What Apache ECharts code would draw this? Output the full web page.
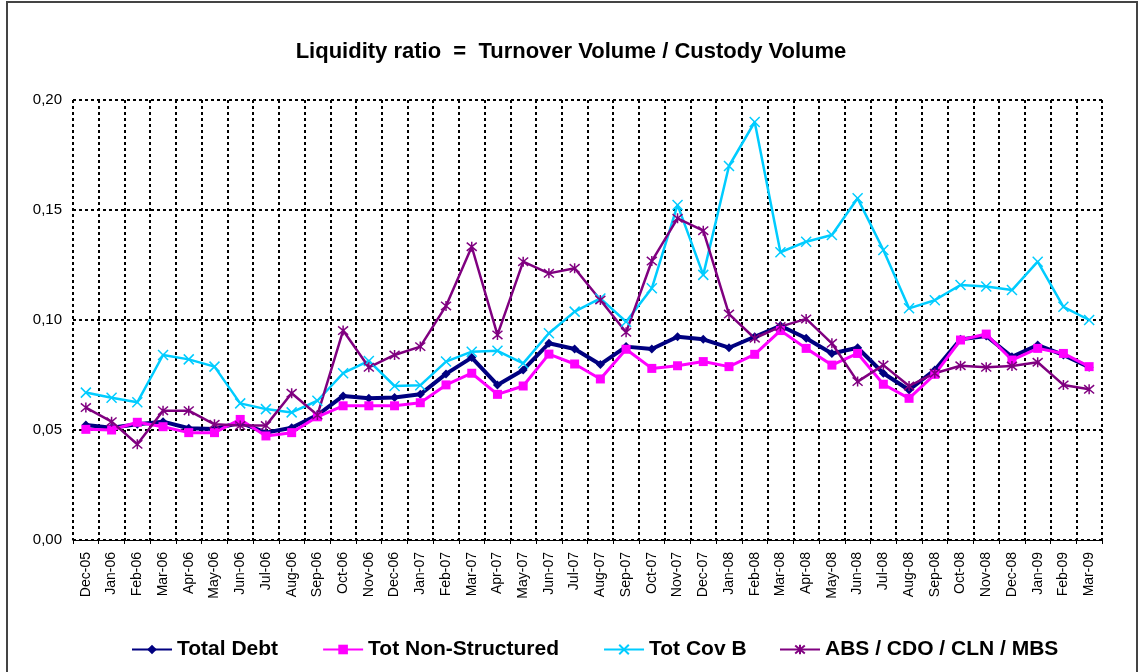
<!DOCTYPE html>
<html>
<head>
<meta charset="utf-8">
<script src="https://cdn.jsdelivr.net/npm/echarts@6/dist/echarts.min.js"></script>
<style>
  html, body { margin: 0; padding: 0; background: #fff; }
</style>
</head>
<body>
<div id="chart" style="width: 1142px;height:672px;"></div>
<script>
var months = ['Dec-05', 'Jan-06', 'Feb-06', 'Mar-06', 'Apr-06', 'May-06', 'Jun-06', 'Jul-06', 'Aug-06', 'Sep-06',
  'Oct-06', 'Nov-06', 'Dec-06', 'Jan-07', 'Feb-07', 'Mar-07', 'Apr-07', 'May-07', 'Jun-07', 'Jul-07',
  'Aug-07', 'Sep-07', 'Oct-07', 'Nov-07', 'Dec-07', 'Jan-08', 'Feb-08', 'Mar-08', 'Apr-08', 'May-08',
  'Jun-08', 'Jul-08', 'Aug-08', 'Sep-08', 'Oct-08', 'Nov-08', 'Dec-08', 'Jan-09', 'Feb-09', 'Mar-09']

var totalDebt = [0.0523, 0.0510, 0.0526, 0.0538, 0.0508, 0.0505, 0.0533, 0.0488, 0.0510, 0.0568,
  0.0655, 0.0644, 0.0648, 0.0662, 0.0755, 0.0829, 0.0705, 0.0773, 0.0894, 0.0868,
  0.0798, 0.0879, 0.0868, 0.0924, 0.0912, 0.0874, 0.0924, 0.0974, 0.0917, 0.0848,
  0.0874, 0.0758, 0.0682, 0.0773, 0.0912, 0.0927, 0.0833, 0.0886, 0.0841, 0.0785]

var totNonStructured = [0.0503, 0.0500, 0.0535, 0.0515, 0.0488, 0.0488, 0.0548, 0.0473, 0.0488, 0.0560,
  0.0610, 0.0610, 0.0610, 0.0624, 0.0705, 0.0758, 0.0662, 0.0700, 0.0845, 0.0800,
  0.0732, 0.0867, 0.0780, 0.0792, 0.0811, 0.0788, 0.0844, 0.0952, 0.0871, 0.0795,
  0.0848, 0.0708, 0.0644, 0.0753, 0.0909, 0.0936, 0.0818, 0.0871, 0.0848, 0.0788]

var totCovB = [0.0670, 0.0647, 0.0626, 0.0841, 0.0821, 0.0788, 0.0621, 0.0595, 0.0580, 0.0633,
  0.0758, 0.0814, 0.0700, 0.0703, 0.0811, 0.0856, 0.0860, 0.0803, 0.0940, 0.1038,
  0.1098, 0.0992, 0.1144, 0.1523, 0.1205, 0.1700, 0.1900, 0.1308, 0.1356, 0.1386,
  0.1553, 0.1318, 0.1053, 0.1090, 0.1159, 0.1152, 0.1136, 0.1265, 0.1060, 0.1000]

var absCdo = [0.0602, 0.0538, 0.0435, 0.0588, 0.0588, 0.0526, 0.0520, 0.0520, 0.0667, 0.0568,
  0.0952, 0.0785, 0.0841, 0.0879, 0.1064, 0.1333, 0.0932, 0.1265, 0.1212, 0.1235,
  0.1091, 0.0944, 0.1268, 0.1462, 0.1406, 0.1027, 0.0917, 0.0970, 0.1005, 0.0894,
  0.0720, 0.0795, 0.0700, 0.0758, 0.0792, 0.0785, 0.0791, 0.0808, 0.0705, 0.0685]

var font = 'Liberation Sans, Arial, sans-serif'
var crossSymbol = 'path://M0,0L10,10M10,0L0,10'
var starSymbol = 'path://M0,0L10,10M10,0L0,10M5,-1L5,11'

// legend look, shared by the two legend blocks
var legendBase = {
  top: 634,
  itemGap: 44,
  itemWidth: 40,
  itemHeight: 12,
  textStyle: {fontFamily: font, fontSize: 21, fontWeight: 'bold', color: '#000'}
}

var option = {
  animation: false,
  backgroundColor: '#fff',
  graphic: [
    {
      type: 'rect',
      shape: {x: 7, y: 2, width: 1130, height: 690},
      style: {fill: 'none', stroke: '#444', lineWidth: 2},
      silent: true
    }
  ],
  title: {
    text: 'Liquidity ratio  =  Turnover Volume / Custody Volume',
    left: 'center',
    top: 36,
    textStyle: {fontFamily: font, fontSize: 22, fontWeight: 'bold', color: '#000'}
  },
  legend: [
    Object.assign({left: 126, data: ['Total Debt', 'Tot Non-Structured', 'Tot Cov B']}, legendBase),
    Object.assign({left: 774, data: ['ABS / CDO / CLN / MBS']}, legendBase)
  ],
  grid: {
    left: 73,
    right: 40,
    top: 100,
    bottom: 132
  },
  xAxis: {
    type: 'category',
    data: months,
    boundaryGap: true,
    axisLine: {lineStyle: {color: '#000', width: 1}},
    axisTick: {show: true, length: 4, lineStyle: {color: '#000'}},
    axisLabel: {rotate: 90, fontFamily: font, fontSize: 14, color: '#000', margin: 12, interval: 0},
    splitLine: {show: true, lineStyle: {color: '#000', width: 2, type: [3, 3]}}
  },
  yAxis: {
    type: 'value',
    min: 0,
    max: 0.2,
    interval: 0.05,
    axisLine: {show: false},
    axisTick: {show: false},
    axisLabel: {
      fontFamily: font, fontSize: 15, color: '#000', margin: 11,
      formatter: function (v) { return v.toFixed(2).replace('.', ',') }
    },
    splitLine: {show: true, lineStyle: {color: '#000', width: 2, type: [3, 3]}}
  },
  series: [
    {
      name: 'Total Debt',
      type: 'line',
      data: totalDebt,
      symbol: 'diamond',
      symbolSize: 9,
      lineStyle: {color: '#000080', width: 4},
      itemStyle: {color: '#000080'}
    },
    {
      name: 'Tot Non-Structured',
      type: 'line',
      data: totNonStructured,
      symbol: 'rect',
      symbolSize: 9,
      lineStyle: {color: '#ff00ff', width: 3},
      itemStyle: {color: '#ff00ff'}
    },
    {
      name: 'Tot Cov B',
      type: 'line',
      data: totCovB,
      symbol: crossSymbol,
      symbolSize: 10,
      lineStyle: {color: '#00ccff', width: 2.5},
      itemStyle: {color: '#00ccff', borderColor: '#00ccff', borderWidth: 1.5}
    },
    {
      name: 'ABS / CDO / CLN / MBS',
      type: 'line',
      data: absCdo,
      symbol: starSymbol,
      symbolSize: 10,
      lineStyle: {color: '#800080', width: 2.5},
      itemStyle: {color: '#800080', borderColor: '#800080', borderWidth: 1.5}
    }
  ]
}

var myChart = echarts.init(document.getElementById('chart'))
myChart.setOption(option)
</script>
</body>
</html>
